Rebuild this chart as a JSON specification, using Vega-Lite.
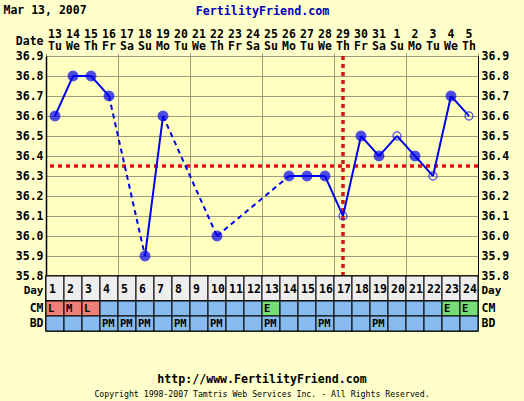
{
  "$schema": "https://vega.github.io/schema/vega-lite/v6.json",
  "background": "#FFFFCC",
  "padding": {"left": 3, "top": 4, "right": 16, "bottom": 4},
  "bounds": "flush",
  "spacing": 0,
  "config": {
    "font": "DejaVu Sans Mono",
    "view": {"stroke": null},
    "axis": {
      "labelFont": "DejaVu Sans Mono", "labelFontSize": 11.5, "labelFontWeight": "bold", "labelColor": "#000",
      "titleFont": "DejaVu Sans Mono", "titleFontSize": 11.5, "titleFontWeight": "bold", "titleColor": "#000"
    },
    "title": {"font": "DejaVu Sans Mono"}
  },
  "datasets": {
    "days": [
      {"day": 1, "date": 13, "dow": "Tu", "temp": 36.6, "open": false, "CM": "L", "BD": ""},
      {"day": 2, "date": 14, "dow": "We", "temp": 36.8, "open": false, "CM": "M", "BD": ""},
      {"day": 3, "date": 15, "dow": "Th", "temp": 36.8, "open": false, "CM": "L", "BD": ""},
      {"day": 4, "date": 16, "dow": "Fr", "temp": 36.7, "open": false, "CM": "", "BD": "PM"},
      {"day": 5, "date": 17, "dow": "Sa", "temp": null, "open": false, "CM": "", "BD": "PM"},
      {"day": 6, "date": 18, "dow": "Su", "temp": 35.9, "open": false, "CM": "", "BD": "PM"},
      {"day": 7, "date": 19, "dow": "Mo", "temp": 36.6, "open": false, "CM": "", "BD": ""},
      {"day": 8, "date": 20, "dow": "Tu", "temp": null, "open": false, "CM": "", "BD": "PM"},
      {"day": 9, "date": 21, "dow": "We", "temp": null, "open": false, "CM": "", "BD": ""},
      {"day": 10, "date": 22, "dow": "Th", "temp": 36.0, "open": false, "CM": "", "BD": "PM"},
      {"day": 11, "date": 23, "dow": "Fr", "temp": null, "open": false, "CM": "", "BD": ""},
      {"day": 12, "date": 24, "dow": "Sa", "temp": null, "open": false, "CM": "", "BD": ""},
      {"day": 13, "date": 25, "dow": "Su", "temp": null, "open": false, "CM": "E", "BD": "PM"},
      {"day": 14, "date": 26, "dow": "Mo", "temp": 36.3, "open": false, "CM": "", "BD": ""},
      {"day": 15, "date": 27, "dow": "Tu", "temp": 36.3, "open": false, "CM": "", "BD": ""},
      {"day": 16, "date": 28, "dow": "We", "temp": 36.3, "open": false, "CM": "", "BD": "PM"},
      {"day": 17, "date": 29, "dow": "Th", "temp": 36.1, "open": true, "CM": "", "BD": ""},
      {"day": 18, "date": 30, "dow": "Fr", "temp": 36.5, "open": false, "CM": "", "BD": ""},
      {"day": 19, "date": 31, "dow": "Sa", "temp": 36.4, "open": false, "CM": "", "BD": "PM"},
      {"day": 20, "date": 1, "dow": "Su", "temp": 36.5, "open": true, "CM": "", "BD": ""},
      {"day": 21, "date": 2, "dow": "Mo", "temp": 36.4, "open": false, "CM": "", "BD": ""},
      {"day": 22, "date": 3, "dow": "Tu", "temp": 36.3, "open": true, "CM": "", "BD": ""},
      {"day": 23, "date": 4, "dow": "We", "temp": 36.7, "open": false, "CM": "E", "BD": ""},
      {"day": 24, "date": 5, "dow": "Th", "temp": 36.6, "open": true, "CM": "E", "BD": ""}
    ],
    "markers": [{"coverline": 36.35, "ovulation": 17}]
  },
  "vconcat": [
    {
      "width": 432, "height": 33,
      "data": {"name": "days"},
      "transform": [{"fold": ["date", "dow"], "as": ["row", "label"]}],
      "mark": {"type": "text", "font": "DejaVu Sans Mono", "fontSize": 11.5, "fontWeight": "bold", "color": "#000", "baseline": "middle", "align": "center", "dy": 1.5},
      "encoding": {
        "x": {"field": "day", "type": "ordinal", "scale": {"type": "point", "padding": 0.5},
          "axis": {"orient": "top", "labels": false, "ticks": false, "domain": false, "grid": false,
            "title": "FertilityFriend.com", "titleColor": "#0000BB", "titleFontSize": 11.7, "titleAnchor": "middle", "titleBaseline": "middle", "titleY": -13}},
        "y": {"field": "row", "type": "nominal", "scale": {"type": "point", "domain": ["date", "dow"], "padding": 0.77},
          "axis": {"orient": "left", "domain": false, "ticks": false, "grid": false, "labelPadding": 3,
            "labelExpr": "datum.value == 'date' ? 'Date' : ''", "labelOffset": 8,
            "title": "Mar 13, 2007", "titleAngle": 0, "titleAlign": "left", "titleBaseline": "middle", "titleX": -43, "titleY": -13}},
        "text": {"field": "label"}
      }
    },
    {
      "width": 432, "height": 220,
      "view": {"fill": "#FFFFC0", "stroke": "#000", "strokeWidth": 1},
      "layer": [
        {
          "data": {"name": "markers"},
          "mark": {"type": "rule", "color": "#DD1111", "strokeWidth": 3.5, "strokeDash": [4, 4]},
          "encoding": {
            "y": {"field": "coverline", "type": "quantitative", "scale": {"domain": [35.8, 36.9], "nice": false, "zero": false},
              "axis": {"orient": "left", "values": [35.8, 35.9, 36.0, 36.1, 36.2, 36.3, 36.4, 36.5, 36.6, 36.7, 36.8, 36.9], "format": ".1f",
                "grid": true, "gridColor": "#9C9C80", "gridOpacity": 1, "gridWidth": 1, "ticks": false, "domain": true, "domainColor": "#000", "domainWidth": 1.5, "labelPadding": 3, "title": null}}
          }
        },
        {
          "data": {"name": "markers"},
          "mark": {"type": "rule", "color": "#DD1111", "strokeWidth": 3.5, "strokeDash": [4, 4]},
          "encoding": {
            "x": {"field": "ovulation", "type": "quantitative", "scale": {"domain": [0.5, 24.5], "nice": false, "zero": false},
              "axis": {"orient": "top", "values": [0.5, 1.5, 2.5, 3.5, 4.5, 5.5, 6.5, 7.5, 8.5, 9.5, 10.5, 11.5, 12.5, 13.5, 14.5, 15.5, 16.5, 17.5, 18.5, 19.5, 20.5, 21.5, 22.5, 23.5, 24.5],
                "labels": false, "ticks": true, "tickSize": 3, "tickColor": "#9C9C80", "domain": false, "grid": true, "gridColor": "#9C9C80", "gridOpacity": 1, "gridWidth": 1, "title": null}}
          }
        },
        {
          "data": {"name": "days"},
          "transform": [
            {"filter": "isValid(datum.temp)"},
            {"window": [{"op": "lead", "field": "day", "as": "nday"}, {"op": "lead", "field": "temp", "as": "ntemp"}], "sort": [{"field": "day"}]},
            {"filter": "isValid(datum.nday)"}
          ],
          "mark": {"type": "rule", "color": "#0000F0", "strokeWidth": 2},
          "encoding": {
            "x": {"field": "day", "type": "quantitative", "scale": {"domain": [0.5, 24.5], "nice": false, "zero": false}},
            "x2": {"field": "nday"},
            "y": {"field": "temp", "type": "quantitative", "scale": {"domain": [35.8, 36.9], "nice": false, "zero": false}, "axis": null},
            "y2": {"field": "ntemp"},
            "strokeDash": {"condition": {"test": "datum.nday - datum.day > 1", "value": [5, 4]}, "value": [1, 0]}
          }
        },
        {
          "data": {"name": "days"},
          "transform": [{"filter": "isValid(datum.temp)"}],
          "mark": {"type": "point", "filled": true, "shape": "circle", "color": "#0000F0", "stroke": "#0000F0", "strokeWidth": 1.2},
          "encoding": {
            "x": {"field": "day", "type": "quantitative", "scale": {"domain": [0.5, 24.5], "nice": false, "zero": false}},
            "y": {"field": "temp", "type": "quantitative", "scale": {"domain": [35.8, 36.9], "nice": false, "zero": false},
              "axis": {"orient": "right", "values": [35.8, 35.9, 36.0, 36.1, 36.2, 36.3, 36.4, 36.5, 36.6, 36.7, 36.8, 36.9], "format": ".1f",
                "grid": false, "ticks": false, "domain": true, "domainColor": "#000", "domainWidth": 1, "labelPadding": 3, "title": null}},
            "fillOpacity": {"condition": {"test": "datum.open", "value": 0}, "value": 1},
            "size": {"condition": {"test": "datum.open", "value": 65}, "value": 95}
          }
        }
      ],
      "resolve": {"axis": {"y": "independent"}}
    },
    {
      "width": 432, "height": 25,
      "data": {"name": "days"},
      "view": {"stroke": "#000", "strokeWidth": 1.5},
      "layer": [
        {
          "mark": {"type": "rect", "fill": "#EEEEEE", "stroke": "#000", "strokeWidth": 1},
          "encoding": {
            "x": {"field": "day", "type": "ordinal", "scale": {"type": "band", "paddingInner": 0, "paddingOuter": 0}, "axis": null},
            "y": {"datum": "Day", "type": "nominal", "scale": {"paddingInner": 0, "paddingOuter": 0},
              "axis": {"orient": "left", "ticks": false, "domain": false, "labelPadding": 3, "labelOffset": 2, "labelFontSize": 11, "title": null}}
          }
        },
        {
          "mark": {"type": "text", "align": "left", "dx": 3, "dy": 1, "baseline": "middle", "font": "DejaVu Sans Mono", "fontSize": 11.5, "fontWeight": "bold", "color": "#000"},
          "encoding": {
            "x": {"field": "day", "type": "ordinal", "bandPosition": 0, "axis": null},
            "y": {"datum": "Day", "type": "nominal",
              "axis": {"orient": "right", "ticks": false, "domain": false, "labelPadding": 3, "labelOffset": 2, "labelFontSize": 11, "title": null}},
            "text": {"field": "day"}
          }
        }
      ],
      "resolve": {"axis": {"y": "independent"}}
    },
    {
      "width": 432, "height": 30,
      "data": {"name": "days"},
      "transform": [{"fold": ["CM", "BD"], "as": ["row", "code"]}],
      "view": {"stroke": "#000", "strokeWidth": 1.5},
      "title": {
        "text": "http://www.FertilityFriend.com",
        "subtitle": "Copyright 1998-2007 Tamtris Web Services Inc. - All Rights Reserved.",
        "orient": "bottom", "anchor": "middle", "offset": 42,
        "font": "DejaVu Sans Mono", "fontSize": 11.6, "fontWeight": "bold", "color": "#000",
        "subtitleFont": "DejaVu Sans Mono", "subtitleFontSize": 8.2, "subtitleColor": "#000", "subtitlePadding": 6
      },
      "layer": [
        {
          "mark": {"type": "rect", "stroke": "#000", "strokeWidth": 1},
          "encoding": {
            "x": {"field": "day", "type": "ordinal", "scale": {"type": "band", "paddingInner": 0, "paddingOuter": 0}, "axis": null},
            "y": {"field": "row", "type": "nominal", "scale": {"domain": ["CM", "BD"], "paddingInner": 0, "paddingOuter": 0},
              "axis": {"orient": "left", "ticks": false, "domain": false, "labelPadding": 3, "title": null}},
            "fill": {"field": "code", "type": "nominal",
              "scale": {"domain": ["", "PM", "L", "M", "E"], "range": ["#88BBEE", "#88BBEE", "#EE8077", "#EE8077", "#77DD77"]}, "legend": null}
          }
        },
        {
          "mark": {"type": "text", "align": "left", "dx": 2, "baseline": "middle", "font": "DejaVu Sans Mono", "fontSize": 10.5, "fontWeight": "bold", "color": "#000"},
          "encoding": {
            "x": {"field": "day", "type": "ordinal", "bandPosition": 0, "axis": null},
            "y": {"field": "row", "type": "nominal",
              "axis": {"orient": "right", "ticks": false, "domain": false, "labelPadding": 3, "title": null}},
            "text": {"field": "code"}
          }
        }
      ],
      "resolve": {"axis": {"y": "independent"}}
    }
  ]
}
